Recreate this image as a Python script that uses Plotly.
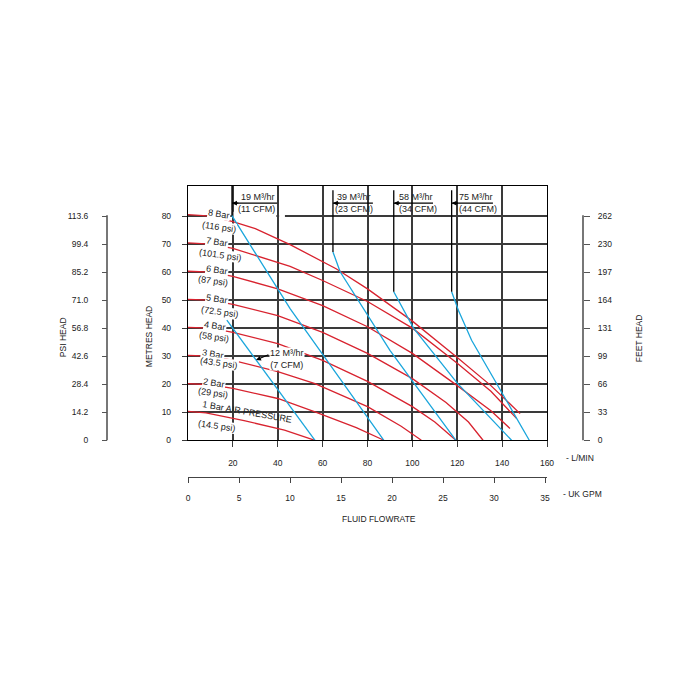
import plotly.graph_objects as go

# ---------------- data ----------------
# Air-pressure performance curves: fluid flow (L/min) vs metres head
bar_names = ["1 Bar AIR PRESSURE", "2 Bar", "3 Bar", "4 Bar", "5 Bar", "6 Bar", "7 Bar", "8 Bar"]
psi_names = ["(14.5 psi)", "(29 psi)", "(43.5 psi)", "(58 psi)", "(72.5 psi)", "(87 psi)", "(101.5 psi)", "(116 psi)"]

bar1_flow = [0, 8, 25, 43, 56.6]
bar1_head = [10.3, 9.8, 7.0, 3.6, 0]
bar2_flow = [0, 10, 20, 40, 56.6, 75, 87.3]
bar2_head = [20.2, 19.8, 18.5, 14.9, 10.1, 4.5, 0]
bar3_flow = [0, 10, 20, 40, 56.6, 80, 95, 104]
bar3_head = [30.3, 30, 28.5, 24.5, 20.2, 12, 5, 0]
bar4_flow = [0, 10, 20, 40, 60, 80, 100, 110, 119.4]
bar4_head = [40.3, 40, 38.5, 34.5, 28.5, 21, 12, 6.5, 0]
bar5_flow = [0, 10, 20, 40, 60, 80, 100, 115, 125, 131.5]
bar5_head = [50.3, 50, 48.5, 44.5, 38.5, 31, 22, 13.5, 6.5, 0]
bar6_flow = [0, 10, 20, 40, 60, 80, 100, 120, 135, 143.5]
bar6_head = [60.3, 60, 58.5, 54, 48, 40.5, 31, 19.5, 10.5, 4.2]
bar7_flow = [0, 10, 20, 30, 45.5, 60, 80, 100, 120, 135, 146.5]
bar7_head = [70.4, 70, 68.5, 66, 62, 57, 49.5, 40, 27.5, 17.5, 7.7]
bar8_flow = [0, 10, 20, 30, 45.5, 66, 80, 100, 120, 135, 148]
bar8_head = [80.5, 80, 78, 75.5, 69.8, 61.2, 54, 42.5, 29.5, 19.5, 9.5]

# Air consumption curves (M3/hr)
air12_flow = [17.3, 56.6]
air12_head = [42.9, 0]
air19_flow = [19.5, 45.5, 87.3]
air19_head = [80.2, 47, 0]
air39_flow = [64.6, 67.8, 90, 119.4]
air39_head = [67.2, 60.1, 32.1, 0]
air58_flow = [91.7, 100.5, 120, 144.2]
air58_head = [53, 40, 20.4, 0]
air75_flow = [117.5, 120.5, 126.4, 152.1]
air75_head = [53, 46.4, 35.7, 0]

air_labels = ["19 M³/hr", "39 M³/hr", "58 M³/hr", "75 M³/hr"]
cfm_labels = ["(11 CFM)", "(23 CFM)", "(34 CFM)", "(44 CFM)"]
air12_label = "12 M³/hr<br>(7 CFM)"

lmin_ticks = [20, 40, 60, 80, 100, 120, 140, 160]
gpm_ticks = [0, 5, 10, 15, 20, 25, 30, 35]
metre_ticks = [0, 10, 20, 30, 40, 50, 60, 70, 80]
psi_ticktext = ["0", "14.2", "28.4", "42.6", "56.8", "71.0", "85.2", "99.4", "113.6"]
feet_ticktext = ["0", "33", "66", "99", "131", "164", "197", "230", "262"]

# ---------------- styling ----------------
RED = "#d8232f"
BLUE = "#1ba6dc"
GRID = "#3a3a3a"
TXT = "#222222"
FONT = "Liberation Sans, Arial, sans-serif"
LSZ = 9     # in-plot label size
TSZ = 8.5   # tick size
ASZ = 8.5   # axis title size

OFF = 8  # page body margin of the browser
W = H = 700
ML, MR, MT = 107 - OFF, 117 + OFF, 186 - OFF
PB = 476.7 - OFF  # paper bottom (px, in figure coords)
PW = W - ML - MR
PH = PB - MT


def px(xp):
    return (xp - OFF - ML) / PW


def py(yp):
    return (PB - (yp - OFF)) / PH


XMAX = 160
YMAX = (440 - 186) / 2.8

fig = go.Figure()

reds = [(bar1_flow, bar1_head), (bar2_flow, bar2_head), (bar3_flow, bar3_head),
        (bar4_flow, bar4_head), (bar5_flow, bar5_head), (bar6_flow, bar6_head),
        (bar7_flow, bar7_head), (bar8_flow, bar8_head)]
for (fx, hy), name in zip(reds, bar_names):
    fig.add_trace(go.Scatter(x=fx, y=hy, mode="lines", name=name,
                             line=dict(color=RED, width=1.3), showlegend=False, hoverinfo="skip"))

blues = [(air12_flow, air12_head), (air19_flow, air19_head), (air39_flow, air39_head),
         (air58_flow, air58_head), (air75_flow, air75_head)]
for fx, hy in blues:
    fig.add_trace(go.Scatter(x=fx, y=hy, mode="lines",
                             line=dict(color=BLUE, width=1.3), showlegend=False, hoverinfo="skip"))

# dummy traces so secondary axes are drawn
for xa, ya in [("x2", "y"), ("x", "y3"), ("x", "y4")]:
    fig.add_trace(go.Scatter(x=[None], y=[None], xaxis=xa, yaxis=ya, mode="markers",
                             marker=dict(opacity=0), showlegend=False, hoverinfo="skip"))

xdom = [px(188), px(547)]
ydom = [py(440), 1]

tickfont = dict(family=FONT, size=TSZ, color=TXT)

fig.update_layout(
    width=W, height=H, template="none",
    paper_bgcolor="white", plot_bgcolor="rgba(0,0,0,0)",
    margin=dict(l=ML, r=MR, t=MT, b=H - PB, pad=0),
    showlegend=False,
    font=dict(family=FONT, size=LSZ, color=TXT),
    xaxis=dict(domain=xdom, range=[0, XMAX], tickvals=lmin_ticks, ticktext=[str(v) for v in lmin_ticks],
               showgrid=True, gridcolor=GRID, gridwidth=1.6, zeroline=False,
               showline=True, linecolor="black", linewidth=1.4, mirror=True,
               ticks="outside", ticklen=6, tickwidth=1.4, tickcolor=GRID,
               tickfont=tickfont, ticklabelstandoff=8, anchor="y"),
    yaxis=dict(domain=ydom, range=[0, YMAX], tickvals=metre_ticks,
               showgrid=True, gridcolor=GRID, gridwidth=1.6, zeroline=False,
               showline=True, linecolor="black", linewidth=1.4, mirror=True,
               ticks="outside", ticklen=5, tickwidth=1.4, tickcolor=GRID,
               tickfont=tickfont, ticklabelstandoff=9, anchor="x"),
    xaxis2=dict(overlaying="x", anchor="free", position=0, side="bottom",
                range=[0, XMAX / 4.54609], tickvals=gpm_ticks,
                showgrid=False, zeroline=False, showline=True, linecolor="#444", linewidth=1.4,
                ticks="outside", ticklen=5, tickwidth=1.4, tickcolor="#444",
                tickfont=tickfont, ticklabelstandoff=8),
    yaxis3=dict(overlaying="y", anchor="free", position=0, side="left",
                range=[0, YMAX * 1.42], tickvals=[14.2 * i for i in range(9)], ticktext=psi_ticktext,
                showgrid=False, zeroline=False, showline=False,
                ticks="outside", ticklen=5, tickwidth=1.4, tickcolor="#555",
                tickfont=tickfont, ticklabelstandoff=12),
    yaxis4=dict(overlaying="y", anchor="free", position=1, side="right",
                range=[0, YMAX * 262 / 80], tickvals=[262 / 8 * i for i in range(9)], ticktext=feet_ticktext,
                showgrid=False, zeroline=False, showline=False,
                ticks="outside", ticklen=6, tickwidth=1.4, tickcolor="#555",
                tickfont=tickfont, ticklabelstandoff=6),
)

ann = []
shapes = []

# side-axis lines spanning 0..80 m only
shapes.append(dict(type="line", xref="paper", yref="y", x0=0, x1=0, y0=-0.3, y1=80.3,
                   line=dict(color="#555", width=1.6)))
shapes.append(dict(type="line", xref="paper", yref="y", x0=1, x1=1, y0=-0.3, y1=80.3,
                   line=dict(color="#555", width=1.6)))

# pressure labels (left)
bar_pos = [(26.5, 10.2), (11.6, 20.4), (11.0, 30.7), (12.2, 40.7), (13.0, 50.4), (13.0, 60.7), (13.0, 70.7), (13.6, 80.7)]
psi_pos = [(13.0, 5.2), (11.3, 16.8), (13.6, 27.4), (11.8, 36.8), (14.3, 45.7), (11.3, 57.0), (14.3, 66.1), (13.6, 76.0)]
for i, (name, (bx, by)) in enumerate(zip(bar_names, bar_pos)):
    ann.append(dict(x=bx, y=by, xref="x", yref="y", text=name, showarrow=False,
                    textangle=10 if i == 0 else 9, font=dict(size=LSZ, color=TXT),
                    xanchor="center", yanchor="middle",
                    bgcolor="white" if i > 0 else "rgba(0,0,0,0)", borderpad=0))
for name, (bx, by) in zip(psi_names, psi_pos):
    ann.append(dict(x=bx, y=by, xref="x", yref="y", text=name, showarrow=False,
                    textangle=8, font=dict(size=LSZ, color=TXT), bgcolor="white", borderpad=0,
                    xanchor="center", yanchor="middle"))

# air consumption labels (top)
leader_f = [19.6, 64.6, 91.7, 117.5]
leader_top = [90.7, 89.2, 89.2, 89.2]
leader_bottom = [80.2, 67.2, 53, 53]
line_end_f = [39.7, 82.4, 109.2, 135.9]
lab_f = [31.2, 73.8, 101.6, 128.2]
cfm_f = [30.7, 73.8, 102.7, 129.2]
for i in range(4):
    shapes.append(dict(type="line", xref="x", yref="y", x0=leader_f[i], x1=leader_f[i],
                       y0=leader_top[i], y1=leader_bottom[i], line=dict(color="black", width=1.3)))
    shapes.append(dict(type="line", xref="x", yref="y", x0=leader_f[i], x1=line_end_f[i],
                       y0=84.6, y1=84.6, line=dict(color="black", width=1.1)))
    ann.append(dict(x=leader_f[i], y=84.6, ax=leader_f[i] + 3.5, ay=84.6, axref="x", ayref="y",
                    xref="x", yref="y", text="", showarrow=True, arrowhead=2, arrowsize=0.9,
                    arrowwidth=1.1, arrowcolor="black", standoff=0))
    ann.append(dict(x=lab_f[i], y=86.8, xref="x", yref="y", text=air_labels[i], showarrow=False,
                    font=dict(size=LSZ, color=TXT), xanchor="center", yanchor="middle"))
    ann.append(dict(x=cfm_f[i], y=82.5, xref="x", yref="y", text=cfm_labels[i], showarrow=False,
                    font=dict(size=LSZ, color=TXT), xanchor="center", yanchor="middle"))

# mask the 80 m grid line under "(11 CFM)"
shapes.append(dict(type="rect", xref="x", yref="y", x0=20.3, x1=39.4, y0=79, y1=81.5,
                   fillcolor="white", line=dict(width=0), layer="between"))
shapes.append(dict(type="rect", xref="x", yref="y", x0=40.6, x1=43.2, y0=79, y1=81.5,
                   fillcolor="white", line=dict(width=0), layer="between"))

# 12 M3/hr label with arrow
ann.append(dict(x=30.3, y=28.6, ax=36.5, ay=30.7, axref="x", ayref="y", xref="x", yref="y",
                text="", showarrow=True, arrowhead=2, arrowsize=0.9, arrowwidth=1.1,
                arrowcolor="black", standoff=0))
ann.append(dict(x=43.9, y=29.1, xref="x", yref="y", text=air12_label, showarrow=False,
                font=dict(size=LSZ, color=TXT), bgcolor="white", borderpad=0,
                xanchor="center", yanchor="middle"))

# axis titles and unit labels
ann += [
    dict(x=px(149), y=py(337), xref="paper", yref="paper", text="METRES HEAD", textangle=-90,
         showarrow=False, font=dict(size=ASZ, color=TXT), xanchor="center", yanchor="middle"),
    dict(x=px(63), y=py(337), xref="paper", yref="paper", text="PSI HEAD", textangle=-90,
         showarrow=False, font=dict(size=ASZ, color=TXT), xanchor="center", yanchor="middle"),
    dict(x=px(639), y=py(338), xref="paper", yref="paper", text="FEET HEAD", textangle=-90,
         showarrow=False, font=dict(size=ASZ, color=TXT), xanchor="center", yanchor="middle"),
    dict(x=px(379), y=py(519), xref="paper", yref="paper", text="FLUID FLOWRATE",
         showarrow=False, font=dict(size=ASZ, color=TXT), xanchor="center", yanchor="middle"),
    dict(x=px(564), y=py(458), xref="paper", yref="paper", text="- L/MIN", xanchor="left",
         yanchor="middle", showarrow=False, font=dict(size=TSZ, color=TXT)),
    dict(x=px(561), y=py(494), xref="paper", yref="paper", text="- UK GPM", xanchor="left",
         yanchor="middle", showarrow=False, font=dict(size=TSZ, color=TXT)),
]

fig.update_layout(annotations=ann, shapes=shapes)
fig.write_html("out.html")
